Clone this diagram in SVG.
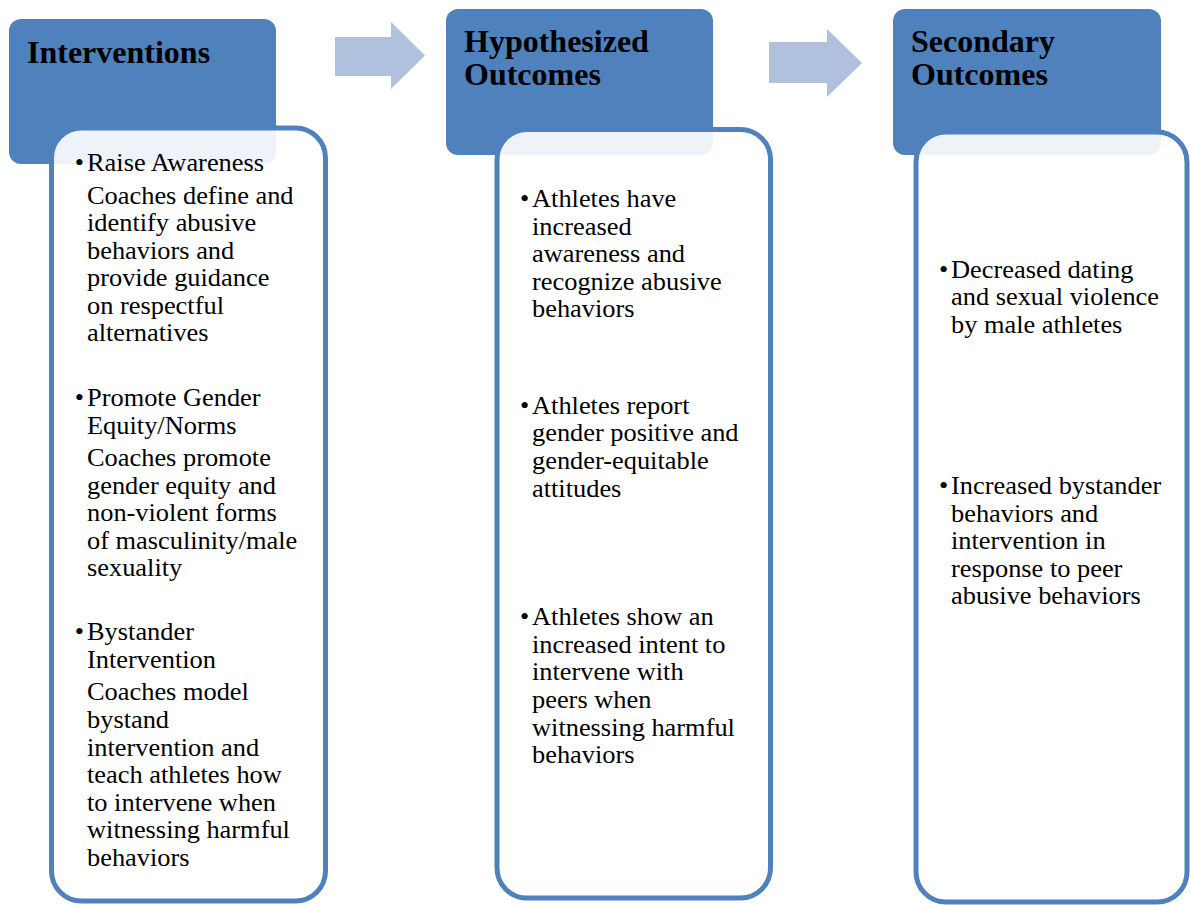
<svg xmlns="http://www.w3.org/2000/svg" width="1190" height="905" viewBox="0 0 1190 905">
<style>
.hdr{fill:#4F81BD}
.box{fill:#FFFFFF;fill-opacity:0.9;stroke:#4F81BD;stroke-width:5}
.arr{fill:#AFC1DD}
.ht{font-family:"Liberation Serif","Times New Roman",serif;font-weight:bold;font-size:32px;fill:#000}
.bt text{font-family:"Liberation Serif","Times New Roman",serif;font-size:25px;fill:#000}
</style>
<rect width="1190" height="905" fill="#FFFFFF"/>
<g id="connectors">
<polygon class="arr" points="335,37 391,37 391,22 425,55.5 391,89 391,76 335,76"/>
<polygon class="arr" points="769,42 827,42 827,29 862,63 827,97 827,83 769,83"/>
</g>
<g id="node-interventions">
<rect class="hdr" x="9" y="19" width="267" height="145" rx="12"/>
<text class="ht" x="27" y="63">Interventions</text>
<rect class="box" x="51.5" y="128" width="274" height="773" rx="30"/>
<g transform="translate(87 0) scale(1.056 1)" class="bt">
<text x="-11.5" y="171">•</text>
<text x="0" y="171">Raise Awareness</text>
<text x="0" y="204">Coaches define and</text>
<text x="0" y="231.5">identify abusive</text>
<text x="0" y="259">behaviors and</text>
<text x="0" y="286.5">provide guidance</text>
<text x="0" y="314">on respectful</text>
<text x="0" y="341.5">alternatives</text>
<text x="-11.5" y="406">•</text>
<text x="0" y="406">Promote Gender</text>
<text x="0" y="434">Equity/Norms</text>
<text x="0" y="466">Coaches promote</text>
<text x="0" y="494">gender equity and</text>
<text x="0" y="521">non-violent forms</text>
<text x="0" y="549">of masculinity/male</text>
<text x="0" y="576">sexuality</text>
<text x="-11.5" y="640">•</text>
<text x="0" y="640">Bystander</text>
<text x="0" y="668">Intervention</text>
<text x="0" y="700">Coaches model</text>
<text x="0" y="728">bystand</text>
<text x="0" y="756">intervention and</text>
<text x="0" y="783">teach athletes how</text>
<text x="0" y="811">to intervene when</text>
<text x="0" y="838">witnessing harmful</text>
<text x="0" y="866">behaviors</text>
</g>
</g>
<g id="node-hypothesized">
<rect class="hdr" x="446" y="9" width="267" height="146" rx="12"/>
<text class="ht" x="464" y="52">Hypothesized</text>
<text class="ht" x="464" y="85">Outcomes</text>
<rect class="box" x="497" y="129.5" width="273.5" height="768.5" rx="30"/>
<g transform="translate(532 0) scale(1.056 1)" class="bt">
<text x="-11.4" y="207">•</text>
<text x="0" y="207">Athletes have</text>
<text x="0" y="235">increased</text>
<text x="0" y="262">awareness and</text>
<text x="0" y="290">recognize abusive</text>
<text x="0" y="317">behaviors</text>
<text x="-11.4" y="414">•</text>
<text x="0" y="414">Athletes report</text>
<text x="0" y="441">gender positive and</text>
<text x="0" y="469">gender-equitable</text>
<text x="0" y="497">attitudes</text>
<text x="-11.4" y="625">•</text>
<text x="0" y="625">Athletes show an</text>
<text x="0" y="653">increased intent to</text>
<text x="0" y="680">intervene with</text>
<text x="0" y="708">peers when</text>
<text x="0" y="736">witnessing harmful</text>
<text x="0" y="763">behaviors</text>
</g>
</g>
<g id="node-secondary">
<rect class="hdr" x="893" y="9" width="268" height="146" rx="12"/>
<text class="ht" x="911" y="52">Secondary</text>
<text class="ht" x="911" y="85">Outcomes</text>
<rect class="box" x="916" y="132" width="271" height="770" rx="30"/>
<g transform="translate(951 0) scale(1.056 1)" class="bt">
<text x="-11.4" y="278">•</text>
<text x="0" y="278">Decreased dating</text>
<text x="0" y="305">and sexual violence</text>
<text x="0" y="333">by male athletes</text>
<text x="-11.4" y="494">•</text>
<text x="0" y="494">Increased bystander</text>
<text x="0" y="522">behaviors and</text>
<text x="0" y="549">intervention in</text>
<text x="0" y="577">response to peer</text>
<text x="0" y="604">abusive behaviors</text>
</g>
</g>
</svg>
